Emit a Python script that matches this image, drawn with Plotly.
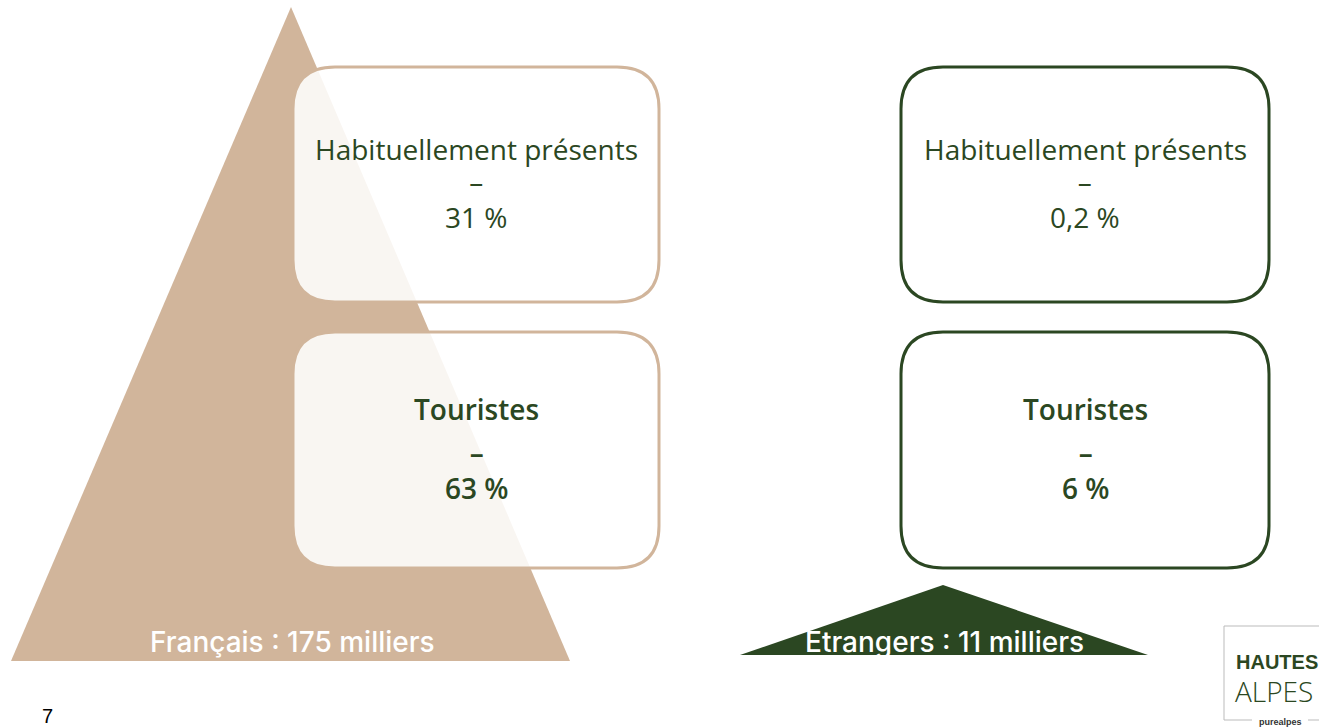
import plotly.graph_objects as go

# ---- data ----
groups = ["Français", "Etrangers"]
totals_milliers = [175, 11]
habituels_pct = ["31 %", "0,2 %"]
touristes_pct = ["63 %", "6 %"]
row_labels = ["Habituellement présents", "Touristes"]
page_number = "7"

# ---- style / layout (pixel coordinates on a 1319 x 727 canvas) ----
W, H = 1319, 727
TAN = "#D1B59B"
GREEN = "#2B4722"
FONT = "Open Sans, sans-serif"

# triangle geometry per group: (apex_x, apex_y, base_left, base_right, base_y)
tri_geom = [(291, 7, 11, 570, 661), (943, 585, 740, 1148, 655)]
tri_colors = [TAN, GREEN]
label_pos = [(292, 642), (944, 642)]

# boxes: column x-ranges, row y-ranges
box_cols = [(293, 659), (901, 1269)]
box_rows = [(67, 302), (332, 568)]
box_colors = [TAN, GREEN]
box_fill = ["rgba(255,255,255,0.87)", "rgba(255,255,255,1)"]
R = 42

fig = go.Figure()

for i, g in enumerate(groups):
    ax, ay, bl, br, by = tri_geom[i]
    fig.add_trace(go.Scatter(
        x=[bl, ax, br, bl], y=[by, ay, by, by],
        fill="toself", fillcolor=tri_colors[i], mode="lines",
        line=dict(width=0, color=tri_colors[i]), hoverinfo="skip", showlegend=False))


def rounded(x0, y0, x1, y1, r):
    return (f"M {x0+r},{y0} L {x1-r},{y0} Q {x1},{y0} {x1},{y0+r} "
            f"L {x1},{y1-r} Q {x1},{y1} {x1-r},{y1} L {x0+r},{y1} "
            f"Q {x0},{y1} {x0},{y1-r} L {x0},{y0+r} Q {x0},{y0} {x0+r},{y0} Z")


shapes = []
annotations = []
values = [habituels_pct, touristes_pct]
for c, (x0, x1) in enumerate(box_cols):
    for r_, (y0, y1) in enumerate(box_rows):
        shapes.append(dict(type="path", path=rounded(x0, y0, x1, y1, R), xref="x", yref="y",
                           line=dict(color=box_colors[c], width=3), fillcolor=box_fill[c], layer="above"))
        cx = (x0 + x1) / 2
        if r_ == 0:
            y_lab, y_val, weight = 149, 199, 400
        else:
            y_lab, y_val, weight = 409, 470, 600
        annotations.append(dict(x=cx, y=y_lab, xref="x", yref="y", text=row_labels[r_],
                                showarrow=False,
                                font=dict(family=FONT, size=28, color=GREEN, weight=weight),
                                xanchor="center", yanchor="middle"))
        annotations.append(dict(x=cx, y=y_val, xref="x", yref="y",
                                text="–<br>" + values[r_][c], align="center",
                                showarrow=False,
                                font=dict(family=FONT, size=28, color=GREEN, weight=weight),
                                xanchor="center", yanchor="middle"))

for i, g in enumerate(groups):
    x, y = label_pos[i]
    annotations.append(dict(x=x, y=y, xref="x", yref="y", text=f"{g} : {totals_milliers[i]} milliers",
                            showarrow=False, font=dict(family="Inter, sans-serif", size=28,
                                                       color="white", weight=500),
                            xanchor="center", yanchor="middle"))

annotations.append(dict(x=47, y=716, xref="x", yref="y", text=page_number, showarrow=False,
                        font=dict(family="Liberation Sans, Arial", size=20, color="black"),
                        xanchor="center", yanchor="middle"))

# logo
shapes.append(dict(type="rect", x0=1224, x1=1330, y0=626, y1=720, xref="x", yref="y",
                   line=dict(color="#BBBBBB", width=1), fillcolor="white"))
shapes.append(dict(type="rect", x0=1252, x1=1308, y0=714, y1=726, xref="x", yref="y",
                   line=dict(width=0), fillcolor="white"))
annotations.append(dict(x=1234, y=662, xref="x", yref="y", text="HAUTES", showarrow=False,
                        font=dict(family="Liberation Sans, Arial", size=20, color=GREEN, weight=700),
                        xanchor="left", yanchor="middle"))
annotations.append(dict(x=1233, y=691, xref="x", yref="y", text="ALPES", showarrow=False,
                        font=dict(family="Open Sans", size=28, color=GREEN, weight=300),
                        xanchor="left", yanchor="middle"))
annotations.append(dict(x=1280, y=722, xref="x", yref="y", text="purealpes", showarrow=False,
                        font=dict(family="Liberation Sans, Arial", size=9, color="#333333", weight=700),
                        xanchor="center", yanchor="middle"))

fig.update_layout(
    width=W, height=H, margin=dict(l=0, r=0, t=0, b=0),
    paper_bgcolor="white", plot_bgcolor="white",
    xaxis=dict(range=[0, W], visible=False, fixedrange=True),
    yaxis=dict(range=[H, 0], visible=False, fixedrange=True),
    shapes=shapes, annotations=annotations, showlegend=False,
)

fig.write_html("out.html", config={"displayModeBar": False},
               post_script="document.body.style.margin='0';")
